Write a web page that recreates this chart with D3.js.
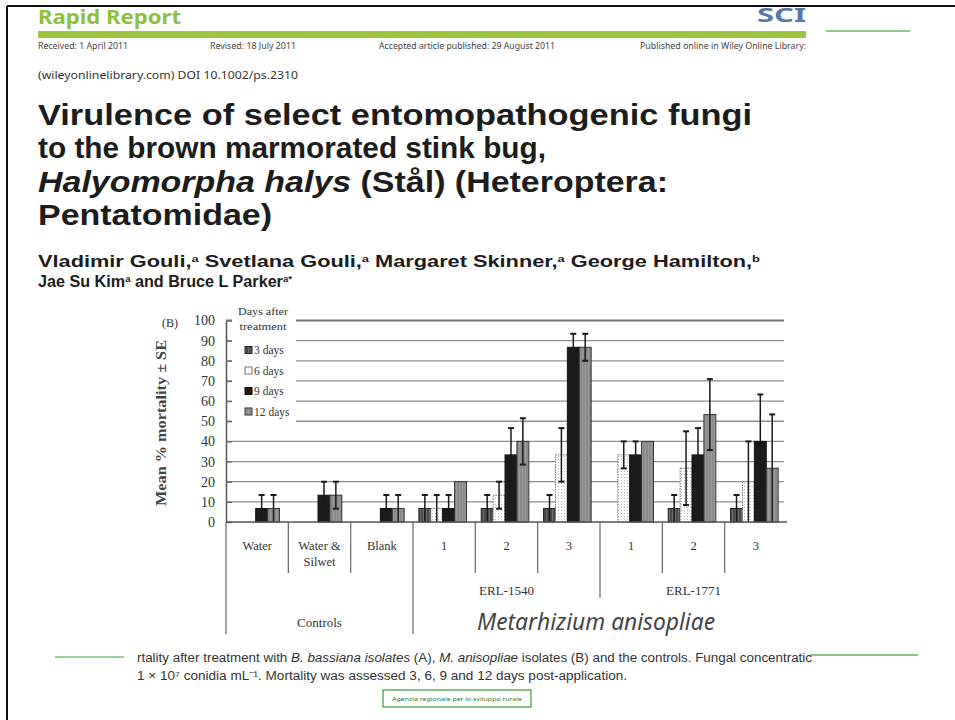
<!DOCTYPE html>
<html><head><meta charset="utf-8">
<script src="https://cdn.jsdelivr.net/npm/d3@7"></script>
<style>body{margin:0;background:#fff}svg{display:block}</style>
</head><body><svg id="c" width="955" height="720"></svg>
<script>
// ---- data ----
const categories = ["Water", "Water & Silwet", "Blank", "1", "2", "3", "1", "2", "3"];
const groupOf = [0, 0, 0, 1, 1, 1, 2, 2, 2];
const groupLabels = ["Controls", "ERL-1540", "ERL-1771"];
const series = ["3 days", "6 days", "9 days", "12 days"];
const mean3 = [0, 0, 0, 6.7, 6.7, 6.7, 0, 6.7, 6.7];
const se3 = [0, 0, 0, 6.7, 6.7, 6.7, 0, 6.7, 6.7];
const mean6 = [0, 0, 0, 6.7, 13.3, 33.3, 33.3, 26.7, 20];
const se6 = [0, 0, 0, 6.7, 6.7, 13.3, 6.7, 18.3, 20];
const mean9 = [6.7, 13.3, 6.7, 6.7, 33.3, 86.7, 33.3, 33.3, 40];
const se9 = [6.7, 6.7, 6.7, 6.7, 13.3, 6.7, 6.7, 13.3, 23.3];
const mean12 = [6.7, 13.3, 6.7, 20, 40, 86.7, 40, 53.3, 26.7];
const se12 = [6.7, 6.7, 6.7, 0, 11.5, 6.7, 0, 17.6, 26.7];
const yTicks = [0, 10, 20, 30, 40, 50, 60, 70, 80, 90, 100];

const means = [mean3, mean6, mean9, mean12];
const ses = [se3, se6, se9, se12];

const svg = d3.select("#c");
const serif = "'Liberation Serif','DejaVu Serif',serif";
const sans = "'Noto Sans','Open Sans','DejaVu Sans',sans-serif";
const narrow = "'Liberation Sans Narrow','Liberation Sans',Arial,sans-serif";

// ---- slide frame ----
svg.append("line").attr("x1", 7).attr("x2", 955).attr("y1", 6).attr("y2", 6).attr("stroke", "#111").attr("stroke-width", 2);
svg.append("line").attr("x1", 7).attr("x2", 7).attr("y1", 6).attr("y2", 720).attr("stroke", "#111").attr("stroke-width", 2);

// ---- header ----
function txt(x, y, s, o) {
  const t = svg.append("text").attr("x", x).attr("y", y).text(s)
    .attr("font-family", o.family || sans).attr("font-size", o.size)
    .attr("font-weight", o.weight || "normal").attr("fill", o.fill || "#222");
  if (o.len) t.attr("textLength", o.len).attr("lengthAdjust", "spacingAndGlyphs");
  if (o.anchor) t.attr("text-anchor", o.anchor);
  if (o.style) t.attr("font-style", o.style);
  return t;
}
txt(38, 24, "Rapid Report", {size: 19, weight: "bold", fill: "#8dc03c", len: 143});
txt(757, 22, "SCI", {size: 20, weight: "bold", fill: "#5577aa", len: 49});
svg.append("rect").attr("x", 38).attr("y", 31).attr("width", 768).attr("height", 7).attr("fill", "#9cc640");
svg.append("line").attr("x1", 826).attr("x2", 910).attr("y1", 31).attr("y2", 31).attr("stroke", "#6cb86c").attr("stroke-width", 1.5);
txt(38, 49, "Received: 1 April 2011", {size: 8, fill: "#444", len: 90});
txt(210, 49, "Revised: 18 July 2011", {size: 8, fill: "#444", len: 86});
txt(379, 49, "Accepted article published: 29 August 2011", {size: 8, fill: "#444", len: 176});
txt(640, 49, "Published online in Wiley Online Library:", {size: 8, fill: "#444", len: 166});
txt(38, 79, "(wileyonlinelibrary.com) DOI 10.1002/ps.2310", {size: 11.5, fill: "#333", len: 260});

// ---- title ----
const tOpt = {family: narrow, size: 29, weight: "bold", fill: "#1c1c1c"};
txt(38, 125, "Virulence of select entomopathogenic fungi", Object.assign({len: 714}, tOpt));
txt(38, 158, "to the brown marmorated stink bug,", Object.assign({len: 508}, tOpt));
{
  const t = txt(38, 192, "", Object.assign({len: 630}, tOpt));
  t.append("tspan").attr("font-style", "italic").text("Halyomorpha halys");
  t.append("tspan").text(" (Stål) (Heteroptera:");
}
txt(38, 225, "Pentatomidae)", Object.assign({len: 234}, tOpt));

// ---- authors ----
function authors(y, parts, len) {
  const t = svg.append("text").attr("x", 38).attr("y", y).attr("font-family", narrow)
    .attr("font-size", 16).attr("font-weight", "bold").attr("fill", "#1c1c1c")
    .attr("textLength", len).attr("lengthAdjust", "spacingAndGlyphs");
  parts.forEach(p => {
    if (p[1]) t.append("tspan").attr("font-size", 9.5).attr("dy", -5).text(p[0]);
    else t.append("tspan").attr("dy", p[2] || 0).text(p[0]);
  });
}
authors(267, [["Vladimir Gouli,"], ["a", 1], [" Svetlana Gouli,", 0, 5], ["a", 1], [" Margaret Skinner,", 0, 5], ["a", 1], [" George Hamilton,", 0, 5], ["b", 1]], 722);
authors(287, [["Jae Su Kim"], ["a", 1], [" and Bruce L Parker", 0, 5], ["a*", 1]], 254);

// ---- chart ----
const x = d3.scaleBand().domain(d3.range(categories.length)).range([226, 787]).padding(0);
const xs = d3.scaleBand().domain(series).range([0, x.bandwidth()]).paddingInner(0).paddingOuter(0.62).align(0.4);
const y = d3.scaleLinear().domain([0, 100]).range([522, 320.5]);

// patterns
const defs = svg.append("defs");
const p3 = defs.append("pattern").attr("id", "p3").attr("patternUnits", "userSpaceOnUse").attr("width", 3).attr("height", 3);
p3.append("rect").attr("width", 3).attr("height", 3).attr("fill", "#4a4a4a");
p3.append("rect").attr("width", 1).attr("height", 3).attr("fill", "#6e6e6e");
const p6 = defs.append("pattern").attr("id", "p6").attr("patternUnits", "userSpaceOnUse").attr("width", 3).attr("height", 3);
p6.append("rect").attr("width", 3).attr("height", 3).attr("fill", "#fff");
p6.append("rect").attr("width", 1).attr("height", 1).attr("fill", "#bbb");
const p12 = defs.append("pattern").attr("id", "p12").attr("patternUnits", "userSpaceOnUse").attr("width", 3).attr("height", 3);
p12.append("rect").attr("width", 3).attr("height", 3).attr("fill", "#8a8a8a");
p12.append("rect").attr("width", 1).attr("height", 3).attr("fill", "#9c9c9c");
const fills = ["url(#p3)", "url(#p6)", "#1b1b1b", "url(#p12)"];
const strokes = ["#222", "#777", "#111", "#333"];

// gridlines
svg.append("g").selectAll("line").data(yTicks.filter(d => d > 0)).join("line")
  .attr("x1", 226).attr("x2", 784).attr("y1", d => y(d)).attr("y2", d => y(d))
  .attr("stroke", d => d === 100 ? "#777" : "#8e8e8e").attr("stroke-width", d => d === 100 ? 1.8 : 1.3);

// legend background & legend
svg.append("rect").attr("x", 232).attr("y", 302).attr("width", 64).attr("height", 124).attr("fill", "#fff");
txt(263, 315, "Days after", {family: serif, size: 10, anchor: "middle", fill: "#333", len: 50});
txt(263, 330, "treatment", {family: serif, size: 10, anchor: "middle", fill: "#333", len: 47});
const lg = svg.append("g").selectAll("g").data(series).join("g")
  .attr("transform", (d, i) => `translate(245,${350 + i * 20.5})`);
lg.append("rect").attr("x", 0).attr("y", -3.5).attr("width", 7).attr("height", 7)
  .attr("fill", (d, i) => fills[i]).attr("stroke", (d, i) => strokes[i]).attr("stroke-width", 1);
lg.append("text").attr("x", 9).attr("y", 4).text(d => d).attr("font-family", serif)
  .attr("font-size", 11.5).attr("fill", "#333");

// y axis
const yAxis = svg.append("g").attr("transform", "translate(226,0)")
  .call(d3.axisLeft(y).tickValues(yTicks).tickSizeInner(8).tickSizeOuter(0).tickPadding(3));
yAxis.select(".domain").attr("stroke", "#555").attr("stroke-width", 1.5);
yAxis.selectAll(".tick line").attr("x2", 6).attr("stroke", "#666").attr("stroke-width", 1.3);
yAxis.selectAll(".tick text").attr("font-family", serif).attr("font-size", 14).attr("fill", "#333");
txt(170, 327, "(B)", {family: serif, size: 12, anchor: "middle", fill: "#333"});
svg.append("text").attr("transform", "translate(166,423) rotate(-90)").attr("text-anchor", "middle")
  .attr("font-family", serif).attr("font-size", 14).attr("font-weight", "bold").attr("fill", "#444")
  .attr("textLength", 166).attr("lengthAdjust", "spacingAndGlyphs").text("Mean % mortality ± SE");

// bars
const rows = [];
categories.forEach((c, i) => series.forEach((s, j) => rows.push({i, s, j, v: means[j][i], e: ses[j][i]})));
svg.append("g").selectAll("rect").data(rows.filter(d => d.v > 0)).join("rect")
  .attr("x", d => x(d.i) + xs(d.s)).attr("width", xs.bandwidth())
  .attr("y", d => y(d.v)).attr("height", d => y(0) - y(d.v))
  .attr("fill", d => fills[d.j]).attr("stroke", d => strokes[d.j]).attr("stroke-width", 1)
  .attr("stroke-dasharray", d => d.j === 1 ? "1.5,1" : null);

// error bars
const eb = svg.append("g").selectAll("g").data(rows.filter(d => d.e > 0)).join("g")
  .attr("transform", d => `translate(${x(d.i) + xs(d.s) + xs.bandwidth() / 2},0)`);
eb.append("line").attr("y1", d => y(Math.max(0, d.v - d.e))).attr("y2", d => y(d.v + d.e))
  .attr("stroke", "#1a1a1a").attr("stroke-width", 1.5);
eb.append("line").attr("x1", -3).attr("x2", 3).attr("y1", d => y(d.v + d.e)).attr("y2", d => y(d.v + d.e))
  .attr("stroke", "#1a1a1a").attr("stroke-width", 2);
eb.filter(d => d.v - d.e > 0.5).append("line").attr("x1", -3).attr("x2", 3)
  .attr("y1", d => y(d.v - d.e)).attr("y2", d => y(d.v - d.e)).attr("stroke", "#1a1a1a").attr("stroke-width", 2);

// x axis line
svg.append("line").attr("x1", 226).attr("x2", 787).attr("y1", y(0)).attr("y2", y(0)).attr("stroke", "#555").attr("stroke-width", 1.5);

// category dividers below axis
const divs = d3.range(categories.length).map(i => {
  let end = 573;
  if (i === 0 || (groupOf[i] !== groupOf[i - 1] && groupOf[i - 1] === 0)) end = 634;
  else if (groupOf[i] !== groupOf[i - 1]) end = 598;
  return {i, end};
});
svg.append("g").selectAll("line").data(divs).join("line")
  .attr("x1", d => x(d.i)).attr("x2", d => x(d.i)).attr("y1", y(0)).attr("y2", d => d.end)
  .attr("stroke", "#666").attr("stroke-width", 1.2);

// category labels
const cl = svg.append("g").selectAll("text").data(categories).join("text")
  .attr("x", (d, i) => x(i) + x.bandwidth() / 2).attr("y", 550).attr("text-anchor", "middle")
  .attr("font-family", serif).attr("font-size", 12.5).attr("fill", "#333");
cl.each(function(d) {
  const parts = d === "Water & Silwet" ? ["Water &", "Silwet"] : [d];
  parts.forEach((p, k) => d3.select(this).append("tspan").attr("x", d3.select(this).attr("x")).attr("dy", k ? 16 : 0).text(p));
});

// group labels
[1, 2].forEach(g => {
  const idx = d3.range(categories.length).filter(i => groupOf[i] === g);
  const cx = (x(idx[0]) + x(idx[idx.length - 1]) + x.bandwidth()) / 2;
  txt(cx, 595, groupLabels[g], {family: serif, size: 13, anchor: "middle", fill: "#333"});
});
{
  const idx = d3.range(categories.length).filter(i => groupOf[i] === 0);
  const cx = (x(idx[0]) + x(idx[idx.length - 1]) + x.bandwidth()) / 2;
  txt(cx, 627, groupLabels[0], {family: serif, size: 13, anchor: "middle", fill: "#333"});
  const idx2 = d3.range(categories.length).filter(i => groupOf[i] > 0);
  const cx2 = (x(idx2[0]) + x(idx2[idx2.length - 1]) + x.bandwidth()) / 2;
  txt(cx2 - 4, 630, "Metarhizium anisopliae", {size: 23, style: "italic", anchor: "middle", fill: "#444", len: 238});
}

// ---- caption ----
svg.append("line").attr("x1", 55).attr("x2", 124).attr("y1", 657).attr("y2", 657).attr("stroke", "#7cc27c").attr("stroke-width", 1.5);
svg.append("line").attr("x1", 810).attr("x2", 918).attr("y1", 655).attr("y2", 655).attr("stroke", "#5fb35f").attr("stroke-width", 1.5);
{
  const t = txt(137, 662, "", {family: narrow, size: 12.5, fill: "#333", len: 675});
  t.append("tspan").text("rtality after treatment with ");
  t.append("tspan").attr("font-style", "italic").text("B. bassiana isolates");
  t.append("tspan").text(" (A), ");
  t.append("tspan").attr("font-style", "italic").text("M. anisopliae");
  t.append("tspan").text(" isolates (B) and the controls. Fungal concentratic");
}
txt(137, 680, "1 × 10⁷ conidia mL⁻¹. Mortality was assessed 3, 6, 9 and 12 days post-application.", {family: narrow, size: 12.5, fill: "#333", len: 490});

// ---- logo box ----
svg.append("rect").attr("x", 383).attr("y", 690).attr("width", 148).attr("height", 17).attr("fill", "#fff").attr("stroke", "#3a9a3a").attr("stroke-width", 1.2);
txt(457, 701, "Agenzia regionale per lo sviluppo rurale", {size: 5.5, anchor: "middle", fill: "#2f7a2f", len: 130});
</script></body></html>
